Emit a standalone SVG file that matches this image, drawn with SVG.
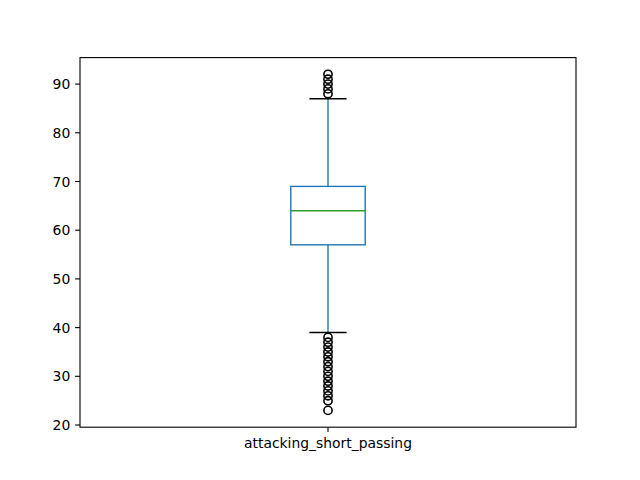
<svg xmlns="http://www.w3.org/2000/svg" width="640" height="480" viewBox="0 0 640 480">
<style>
.t{font-family:"DejaVu Sans",sans-serif;font-size:13.9px;fill:#000}
.tk{stroke:#000;stroke-width:1.1}
.bx{stroke:#1f77b4;stroke-width:1.4;fill:none}
.fl{stroke:#000;stroke-width:1.6;fill:none}
</style>
<rect width="640" height="480" fill="#fff"/>
<g id="ticks">
<g class="tk">
<line x1="80" y1="425.0" x2="75.1" y2="425.0"/>
<line x1="80" y1="376.3" x2="75.1" y2="376.3"/>
<line x1="80" y1="327.6" x2="75.1" y2="327.6"/>
<line x1="80" y1="278.9" x2="75.1" y2="278.9"/>
<line x1="80" y1="230.2" x2="75.1" y2="230.2"/>
<line x1="80" y1="181.5" x2="75.1" y2="181.5"/>
<line x1="80" y1="132.8" x2="75.1" y2="132.8"/>
<line x1="80" y1="84.1" x2="75.1" y2="84.1"/>
<line x1="328" y1="427.2" x2="328" y2="432.1"/>
</g>
<g class="t" text-anchor="end">
<text x="70.3" y="430.1">20</text>
<text x="70.3" y="381.4">30</text>
<text x="70.3" y="332.7">40</text>
<text x="70.3" y="284.0">50</text>
<text x="70.3" y="235.3">60</text>
<text x="70.3" y="186.6">70</text>
<text x="70.3" y="137.9">80</text>
<text x="70.3" y="89.2">90</text>
</g>
<text class="t" x="328" y="447.6" text-anchor="middle">attacking_short_passing</text>
</g>
<g id="box">
<rect class="bx" x="290.8" y="186.4" width="74.4" height="58.4"/>
<line class="bx" x1="328" y1="186.4" x2="328" y2="98.7"/>
<line class="bx" x1="328" y1="244.8" x2="328" y2="332.5"/>
<line x1="290.8" y1="210.8" x2="365.2" y2="210.8" stroke="#2ca02c" stroke-width="1.4"/>
<line x1="309.4" y1="98.7" x2="346.6" y2="98.7" stroke="#000" stroke-width="1.4"/>
<line x1="309.4" y1="332.5" x2="346.6" y2="332.5" stroke="#000" stroke-width="1.4"/>
</g>
<g id="fliers" class="fl">
<circle cx="328" cy="93.8" r="4.1"/>
<circle cx="328" cy="88.9" r="4.1"/>
<circle cx="328" cy="84.1" r="4.1"/>
<circle cx="328" cy="79.2" r="4.1"/>
<circle cx="328" cy="74.3" r="4.1"/>
<circle cx="328" cy="337.4" r="4.1"/>
<circle cx="328" cy="342.2" r="4.1"/>
<circle cx="328" cy="347.1" r="4.1"/>
<circle cx="328" cy="352.0" r="4.1"/>
<circle cx="328" cy="356.8" r="4.1"/>
<circle cx="328" cy="361.7" r="4.1"/>
<circle cx="328" cy="366.6" r="4.1"/>
<circle cx="328" cy="371.4" r="4.1"/>
<circle cx="328" cy="376.3" r="4.1"/>
<circle cx="328" cy="381.2" r="4.1"/>
<circle cx="328" cy="386.0" r="4.1"/>
<circle cx="328" cy="390.9" r="4.1"/>
<circle cx="328" cy="395.8" r="4.1"/>
<circle cx="328" cy="400.7" r="4.1"/>
<circle cx="328" cy="410.4" r="4.1"/>
</g>
<rect id="frame" x="80" y="57.6" width="496" height="369.6" fill="none" stroke="#000" stroke-width="1.1"/>
</svg>
